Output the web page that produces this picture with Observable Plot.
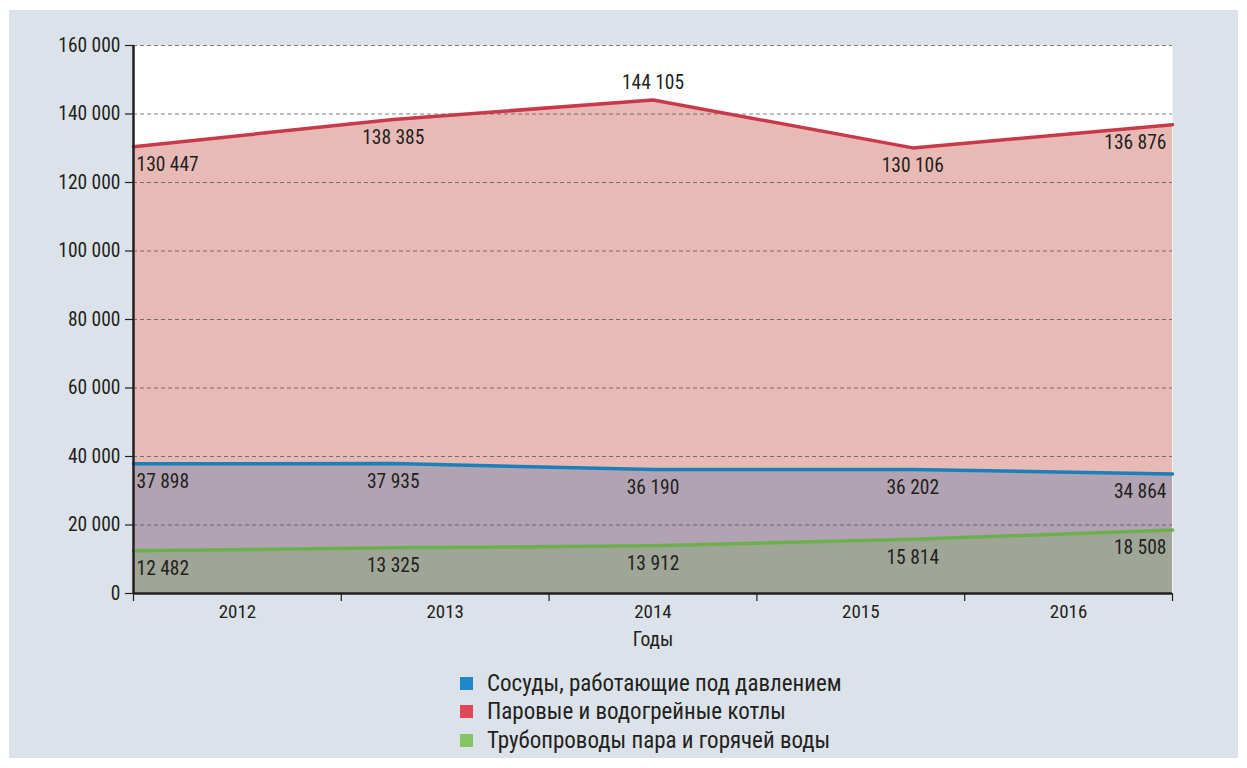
<!DOCTYPE html>
<html>
<head>
<meta charset="utf-8">
<script src="https://cdn.jsdelivr.net/npm/d3@7"></script>
<script src="https://cdn.jsdelivr.net/npm/@observablehq/plot@0.6"></script>
<style>
  html, body { margin: 0; padding: 0; background: #ffffff; }
  body { width: 1247px; height: 768px; position: relative; overflow: hidden;
         font-family: "Roboto Condensed", "Liberation Sans Narrow", "Liberation Sans", Arial, sans-serif; }
  #panel { position: absolute; left: 9px; top: 10px; width: 1229px; height: 748px; background: #dbe2e9; }
  #chart { position: absolute; left: 0; top: 0; }
  #legend { position: absolute; left: 460px; top: 669px; color: #231f20; font-size: 23px; }
  .row { height: 28.5px; display: flex; align-items: center; }
  .sw { width: 13px; height: 13px; margin-right: 14px; }
</style>
</head>
<body>
<div id="panel"></div>
<div id="chart"></div>
<div id="legend"></div>
<script>
const years = [2012, 2013, 2014, 2015, 2016];
const vessels = [37898, 37935, 36190, 36202, 34864];      // Сосуды, работающие под давлением
const boilers = [130447, 138385, 144105, 130106, 136876]; // Паровые и водогрейные котлы
const pipelines = [12482, 13325, 13912, 15814, 18508];    // Трубопроводы пара и горячей воды
const seriesNames = ["Сосуды, работающие под давлением", "Паровые и водогрейные котлы", "Трубопроводы пара и горячей воды"];
const yTicks = [0, 20000, 40000, 60000, 80000, 100000, 120000, 140000, 160000];
const xTitle = "Годы";

const lineColors = ["#1b80ba", "#c8394a", "#6cb04d"];
const areaColors = ["#b1a3b1", "#e8bab5", "#a0a697"];
const legendColors = ["#1e88c8", "#e14657", "#86c463"];
const FONT = "'Roboto Condensed', 'Liberation Sans Narrow', 'Liberation Sans', Arial, sans-serif";

const fmt = v => d3.format(",")(v).replace(/,/g, " ");

const series = [
  {name: seriesNames[1], values: boilers, line: lineColors[1], area: areaColors[1], top: true},
  {name: seriesNames[0], values: vessels, line: lineColors[0], area: areaColors[0], top: false},
  {name: seriesNames[2], values: pipelines, line: lineColors[2], area: areaColors[2], top: false}
];
series.forEach(s => s.data = years.map((y, i) => ({year: y, value: s.values[i], i})));

// Category band layout: 5 equal bands across the x range, labels centered, ticks at bounds
const x0 = years[0], x1 = years[years.length - 1];
const bandW = (x1 - x0) / years.length;
const bounds = d3.range(years.length + 1).map(i => x0 + i * bandW);
const centers = years.map((y, i) => x0 + (i + 0.5) * bandW);

const marks = [Plot.frame({fill: "white", stroke: null})];
for (const s of series) {
  marks.push(Plot.areaY(s.data, {x: "year", y: "value", fill: s.area}));
}
marks.push(Plot.gridY(yTicks, {stroke: "#444", strokeOpacity: 0.85, strokeDasharray: "4,3", strokeWidth: 0.8}));
for (const s of series) {
  marks.push(Plot.lineY(s.data, {x: "year", y: "value", stroke: s.line, strokeWidth: 3.5}));
}
for (const s of series) {
  const n = years.length;
  const isPeak = d => s.top && d.i > 0 && d.i < n - 1 && d.value > s.values[d.i - 1] && d.value > s.values[d.i + 1];
  const common = {x: "year", y: "value", text: d => fmt(d.value), fontSize: 19.5, fontFamily: FONT, fill: "#231f20"};
  marks.push(Plot.text(s.data.filter(d => d.i === 0), {...common, textAnchor: "start", dx: 3, dy: 18}));
  marks.push(Plot.text(s.data.filter(d => d.i > 0 && d.i < n - 1 && !isPeak(d)), {...common, textAnchor: "middle", dy: 18}));
  marks.push(Plot.text(s.data.filter(d => isPeak(d)), {...common, textAnchor: "middle", dy: -17}));
  marks.push(Plot.text(s.data.filter(d => d.i === n - 1), {...common, textAnchor: "end", dx: -6, dy: 18}));
}
marks.push(Plot.axisY({ticks: yTicks, tickFormat: fmt, tickSize: 8, tickPadding: 5, fontSize: 19.5, fontFamily: FONT, stroke: "#231f20", strokeWidth: 1.2, label: null}));
marks.push(Plot.axisX({ticks: bounds, tickFormat: () => "", tickSize: 8, stroke: "#231f20", strokeWidth: 1.2, label: null}));
marks.push(Plot.axisX({ticks: centers, tickFormat: (d, i) => String(years[i]), tickSize: 0, tickPadding: 11, fontSize: 19, fontFamily: FONT, label: null}));
marks.push(Plot.ruleX([x0], {stroke: "#231f20", strokeWidth: 2.5}));
marks.push(Plot.ruleY([0], {stroke: "#231f20", strokeWidth: 2.5}));
marks.push(Plot.text([xTitle], {frameAnchor: "bottom", dy: 52, fontSize: 19.5, fontFamily: FONT, fill: "#231f20"}));

const chart = Plot.plot({
  width: 1247,
  height: 650,
  marginLeft: 133,
  marginRight: 75,
  marginTop: 45,
  marginBottom: 57,
  x: {type: "linear", domain: [x0, x1]},
  y: {domain: [0, 160000]},
  style: {background: "transparent", fontFamily: FONT, color: "#231f20", fontSize: "19.5px"},
  marks
});
document.getElementById("chart").appendChild(chart);

const legend = document.getElementById("legend");
seriesNames.forEach((n, i) => {
  const row = document.createElement("div");
  row.className = "row";
  const sw = document.createElement("div");
  sw.className = "sw";
  sw.style.background = legendColors[i];
  const t = document.createElement("span");
  t.textContent = n;
  row.appendChild(sw);
  row.appendChild(t);
  legend.appendChild(row);
});
</script>
</body>
</html>
